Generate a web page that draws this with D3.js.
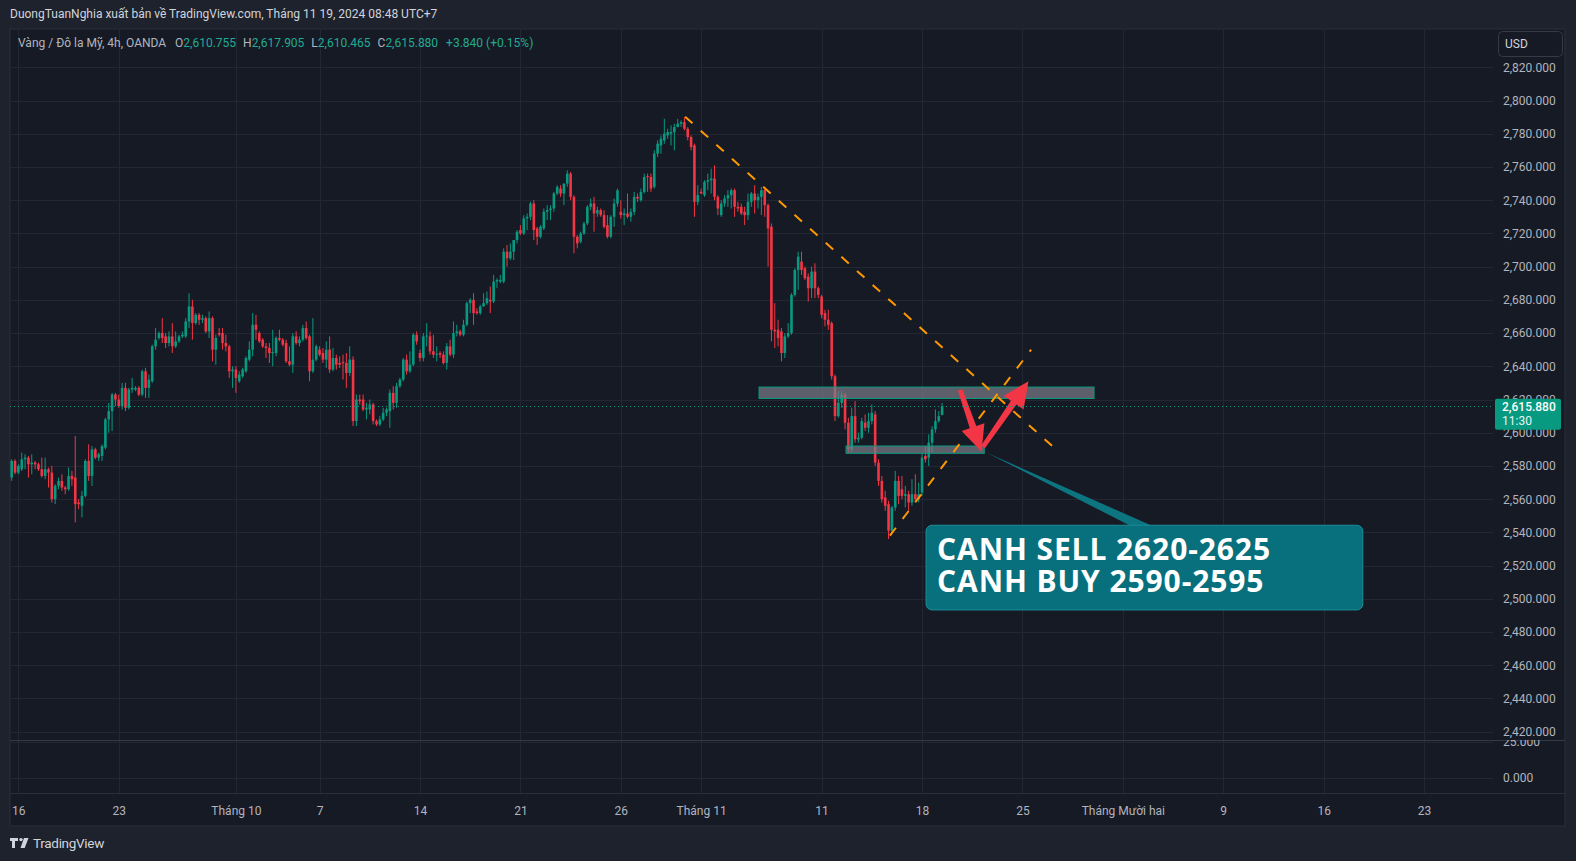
<!DOCTYPE html>
<html>
<head>
<meta charset="utf-8">
<script src="https://cdnjs.cloudflare.com/ajax/libs/d3/7.8.5/d3.min.js"></script>
<style>
body{margin:0;background:#1e222d;overflow:hidden;}
svg{display:block;font-family:Roboto,"Noto Sans",sans-serif;}
</style>
</head>
<body>
<div class="chart"></div>
<script>
// 4h candles, [open, high, low, close]
var candles = [
[2573,2584,2571,2583],[2583,2584,2575,2576],[2576,2581,2575,2580],[2578,2588,2577,2584],[2584,2587,2578,2585],
[2585,2586,2573,2581],[2581,2587,2575,2582],[2582,2583,2578,2581],[2581,2582,2577,2578],[2578,2585,2573,2574],
[2574,2585,2572,2578],[2578,2579,2567,2576],[2576,2580,2558,2560],[2560,2569,2557,2568],[2568,2573,2566,2571],
[2571,2575,2565,2567],[2567,2568,2563,2566],[2566,2579,2565,2574],[2574,2577,2568,2572],[2573,2598,2546,2557],
[2558,2560,2554,2557],[2556,2565,2549,2562],[2562,2584,2561,2583],[2583,2593,2571,2574],[2574,2592,2568,2590],
[2590,2591,2584,2585],[2585,2588,2583,2587],[2586,2593,2583,2592],[2591,2609,2590,2608],[2608,2618,2600,2613],
[2613,2624,2601,2623],[2623,2624,2616,2620],[2620,2623,2615,2616],[2616,2630,2614,2627],[2627,2630,2613,2615],
[2615,2627,2614,2626],[2626,2633,2624,2627],[2626,2628,2625,2627],[2627,2628,2622,2623],[2623,2638,2622,2637],
[2637,2639,2621,2627],[2627,2635,2621,2632],[2631,2653,2630,2652],[2652,2663,2650,2656],[2657,2661,2656,2660],
[2660,2669,2654,2657],[2658,2660,2651,2654],[2654,2661,2652,2658],[2658,2666,2648,2652],[2652,2661,2651,2655],
[2655,2659,2654,2658],[2658,2661,2657,2659],[2658,2669,2657,2667],[2667,2684,2663,2676],[2676,2680,2656,2666],
[2666,2672,2665,2671],[2671,2672,2665,2668],[2668,2671,2666,2669],[2669,2670,2660,2661],[2661,2673,2657,2669],
[2669,2670,2643,2650],[2650,2659,2641,2657],[2660,2663,2658,2659],[2660,2663,2650,2654],[2654,2659,2649,2652],
[2652,2653,2633,2637],[2637,2640,2627,2638],[2638,2640,2624,2633],[2631,2637,2630,2635],[2634,2639,2633,2638],
[2637,2646,2636,2645],[2644,2655,2643,2650],[2650,2672,2646,2665],[2665,2671,2656,2662],[2660,2661,2654,2655],
[2656,2657,2651,2652],[2652,2654,2645,2651],[2651,2654,2642,2648],[2648,2662,2640,2648.5],[2648,2658,2646,2657],
[2657,2662,2655,2656],[2656,2657,2652,2653],[2654,2656,2642,2643],[2643,2652,2640,2641],[2641,2660,2636,2658],
[2658,2661,2653,2654],[2654,2658,2652,2656],[2656,2665,2655,2663],[2663,2667,2656,2657],[2658,2659,2631,2637],
[2637,2669,2636,2644],[2644,2653,2643,2652],[2650,2652,2646,2647],[2648,2651,2642,2644],[2644,2655,2639,2650],
[2650,2658,2636,2638],[2638,2651,2637,2645],[2645,2647,2638,2641],[2642,2646,2639,2641],[2642.5,2647,2632,2642],
[2642,2648,2627,2636],[2636,2652,2634,2644],[2644,2646,2604,2607],[2607,2623,2604,2620],[2620,2623,2617,2619],
[2620,2623,2613,2614],[2614,2618,2608,2615],[2614,2620,2611,2617],[2617,2618,2605,2607],[2607,2608,2604,2605],
[2605,2610,2604,2608],[2608,2615,2607,2612],[2612,2615,2610,2614],[2613,2626,2603,2624],[2624,2628,2614,2618],
[2618,2630,2615,2628],[2628,2633,2627,2632],[2632,2645,2631,2644],[2644,2647,2635,2637],[2637,2649,2636,2641],
[2641,2660,2640,2659],[2659,2661,2653,2655],[2648,2650,2643,2645],[2645,2660,2643,2658],[2658,2666,2652,2658.5],
[2658,2661,2647,2649],[2649,2659,2645,2647],[2647,2652,2643,2647.5],[2648,2649,2645,2647],[2647,2649,2641,2642],
[2642,2654,2638,2652],[2652,2656,2646,2647],[2647,2667,2645,2660],[2660,2665,2658,2661],[2661,2662,2658,2659],
[2659,2668,2658,2665],[2665,2679,2664,2678],[2678,2681,2672,2680],[2680,2684,2665,2672],[2673,2675,2671,2672],
[2672,2677,2671,2676],[2676,2684,2676,2678],[2678,2685,2677,2681],[2680,2688,2672,2679],[2679,2695,2678,2691],
[2691,2693,2687,2692],[2691,2695,2690,2692],[2691,2711,2690,2709],[2709,2713,2700,2705],[2705,2714,2704,2709],
[2709,2716,2704,2716],[2716,2722,2714,2721],[2722,2725,2719,2720],[2720,2731,2719,2729],[2729,2732,2722,2730],
[2730,2739,2728,2738],[2738,2740,2716,2722],[2723,2724,2713,2718],[2718,2725,2717,2724],[2723,2735,2722,2733],
[2733,2737,2728,2734],[2734,2737,2728,2735],[2735,2745,2733,2744],[2744,2749,2743,2748],[2747,2749,2742,2744],
[2744,2750,2737,2750],[2750,2758,2748,2756],[2756,2757,2740,2742],[2742,2743,2708,2718],[2718,2719,2711,2714],
[2715,2721,2714,2720],[2720,2727,2719,2726],[2726,2737,2725,2736],[2736,2741,2734,2738],[2738,2742,2721,2732],
[2732,2736,2730,2734],[2734,2735,2730,2731],[2731,2734,2723,2724],[2725,2731,2717,2718],[2718,2731,2717,2730],
[2730,2741,2724,2738],[2738,2747,2736,2746],[2733,2740,2729,2731],[2731,2735,2725,2732],[2732,2744,2729,2730],
[2730,2735,2727,2733],[2733,2745,2731,2742],[2742,2744,2739,2741],[2740,2747,2739,2745],[2745,2756,2744,2754],
[2754.5,2756,2745,2754],[2754,2756,2745,2747],[2748,2770,2747,2768],[2768,2776,2766,2774],[2773,2779,2768,2777],
[2776,2789,2774,2780],[2779,2783,2777,2781],[2780,2785,2773,2781],[2781,2786,2770,2784],[2784,2789,2784,2786],
[2786,2788,2784,2787],[2787,2790,2782,2783],[2783,2784,2776,2778],[2778,2779,2770,2772],[2773,2774,2730,2739],
[2739,2749,2737,2743],[2745,2747,2744,2744],[2743,2752,2742,2751],[2751,2756,2746,2752],[2752,2759,2744,2753],
[2753,2761,2740,2742],[2742,2743,2731,2735],[2731,2740,2730,2738],[2738,2743,2736,2741],[2741,2746,2736,2743],
[2743,2747,2735,2746],[2746,2747,2730,2736],[2736,2739,2733,2735],[2736,2738,2731,2732],[2733,2736,2725,2731],
[2731,2744,2728,2739],[2739,2745,2736,2744],[2744,2749,2732,2740],[2740,2744,2735,2742],[2742,2748,2731,2746],
[2746,2748,2730,2737],[2737,2738,2700,2723],[2724,2726,2655,2662],[2662,2678,2651,2661],[2662,2668,2652,2657],
[2661,2663,2643,2648],[2648,2660,2645,2658],[2658,2666,2657,2660],[2660,2684,2659,2683],[2683,2699,2682,2698],
[2698,2709,2686,2706],[2703,2709,2695,2698],[2699,2700,2692,2693],[2694,2696,2679,2687],[2687,2700,2681,2697],
[2697,2702,2681,2687],[2687,2688,2681,2683],[2682,2683,2669,2671],[2672,2674,2664,2668],[2668,2674,2662,2665],
[2666,2667,2632,2634],[2634,2635,2607,2610],[2610,2625,2609,2618],[2618,2625,2615,2623],[2623,2624,2602,2606],
[2606,2609,2588,2590],[2590,2615,2588,2610],[2610,2619,2594,2596],[2596,2600,2594,2597],[2597,2609,2596,2607],
[2606,2611,2601,2603],[2603,2612,2600,2607],[2607,2617,2605,2612],[2611,2613,2580,2582],[2582,2584,2568,2571],
[2571,2574,2558,2560],[2561,2565,2553,2556],[2557,2559,2536,2541],[2541,2556,2539,2555],[2555,2577,2553,2571],
[2571,2574,2557,2562],[2566,2574,2560,2562],[2562,2568,2555,2563],[2563,2565,2553,2558],[2558,2572,2556,2563],
[2563,2575,2558,2560],[2560,2570,2558,2563],[2564,2588,2562,2585],[2586,2592,2582,2584],[2585,2599,2580,2594],
[2594,2604,2588,2602],[2602,2614,2600,2607],[2607,2613,2606,2610],[2610.755,2617.905,2610.465,2615.88]
];

// time axis: label and the bar index where it sits
var timeLabels = ["16","23","Tháng 10","7","14","21","26","Tháng 11","11","18","25","Tháng Mười hai","9","16","23"];
var timeBars = [2,32,67,92,122,152,182,206,242,272,302,332,362,392,422];

var priceTicks = [2420,2440,2460,2480,2500,2520,2540,2560,2580,2600,2620,2640,2660,2680,2700,2720,2740,2760,2780,2800,2820];
var lowerTicks = [0,25];

var lastChange = 3.84;
var lastChangePct = 0.15;
var lastTime = "11:30";

// drawings, in [bar index, price]
var trendDown = [[201.2,2790.3],[312,2590]];
var trendUp = [[262.4,2538],[304.6,2650]];
var sellZone = [[223.3,2627.5],[323.4,2620.6]];
var buyZone = [[249.3,2592.0],[290.6,2587.6]];
var arrowDown = [[283.4,2625.7],[289.8,2588.6]];
var arrowUp = [[290.2,2591.4],[303.8,2631]];
var calloutAnchor = [291.3,2588];
var calloutBox = [[273.2,2544.3],[403.7,2493.3]];
var calloutText = ["CANH SELL 2620-2625","CANH BUY 2590-2595"];

var W = 1576, H = 861;
var plotL = 10, plotR = 1493, plotT = 29, plotB = 740, lowB = 793, axisB = 826, frameR = 1565;
var up = '#089981', down = '#f23645', grid = '#232733', txt = '#b2b5be';

var svg = d3.select('div.chart')
.append('svg')
.attr('width', W)
.attr('height', H)
;

var x = d3.scaleLinear()
.domain([-0.5, 442.6])
.range([plotL, plotR])
;

var y = d3.scaleLinear()
.domain([2420, 2820])
.range([731.7, 67.3])
;

var y2 = d3.scaleLinear()
.domain([0, 25])
.range([777.7, 742])
;

var defs = svg.append('defs');
defs.append('clipPath').attr('id','plotClip')
.append('rect').attr('x',plotL).attr('y',plotT).attr('width',plotR-plotL).attr('height',plotB-plotT);
defs.append('clipPath').attr('id','lowClip')
.append('rect').attr('x',plotL).attr('y',plotB).attr('width',frameR-plotL).attr('height',lowB-plotB);

// frame
svg.append('rect')
.attr('x', plotL).attr('y', plotT)
.attr('width', frameR-plotL).attr('height', axisB-plotT)
.attr('fill', '#161a25')
.attr('stroke', '#2a2e39')
;

// grid
svg.append('g')
.selectAll('line')
.data(priceTicks)
.enter()
.append('line')
.attr('x1', plotL).attr('x2', plotR)
.attr('y1', function(d){return Math.round(y(d))+0.5})
.attr('y2', function(d){return Math.round(y(d))+0.5})
.attr('stroke', grid)
;
svg.append('g')
.selectAll('line')
.data(lowerTicks)
.enter()
.append('line')
.attr('x1', plotL).attr('x2', plotR)
.attr('y1', function(d){return Math.round(y2(d))+0.5})
.attr('y2', function(d){return Math.round(y2(d))+0.5})
.attr('stroke', grid)
;
svg.append('g')
.selectAll('line')
.data(timeBars)
.enter()
.append('line')
.attr('x1', function(d){return Math.round(x(d))+0.5})
.attr('x2', function(d){return Math.round(x(d))+0.5})
.attr('y1', plotT).attr('y2', lowB)
.attr('stroke', grid)
;

// candles
var bars = svg.append('g')
.attr('clip-path', 'url(#plotClip)')
.selectAll('g')
.data(candles)
.enter()
.append('g')
.attr('fill', function(d){return d[3] >= d[0] ? up : down})
.attr('stroke', function(d){return d[3] >= d[0] ? up : down})
;
bars.append('line')
.attr('x1', function(d,i){return x(i)})
.attr('x2', function(d,i){return x(i)})
.attr('y1', function(d){return y(d[1])})
.attr('y2', function(d){return y(d[2])})
.attr('stroke-width', 1)
;
bars.append('rect')
.attr('x', function(d,i){return x(i)-1.3})
.attr('width', 2.6)
.attr('y', function(d){return y(Math.max(d[0],d[3]))})
.attr('height', function(d){return Math.max(1, Math.abs(y(d[0])-y(d[3])))})
.attr('stroke', 'none')
;

// drawings
var draw = svg.append('g').attr('clip-path', 'url(#plotClip)');

function pt(p){return [x(p[0]), y(p[1])];}

[sellZone, buyZone].forEach(function(z){
    var a = pt(z[0]), b = pt(z[1]);
    draw.append('rect')
    .attr('x', a[0]).attr('y', a[1])
    .attr('width', b[0]-a[0]).attr('height', b[1]-a[1])
    .attr('fill', 'rgba(120,123,134,0.72)')
    .attr('stroke', '#089981')
    .attr('stroke-width', 1)
    ;
});

[trendDown, trendUp].forEach(function(l){
    var a = pt(l[0]), b = pt(l[1]);
    draw.append('line')
    .attr('x1', a[0]).attr('y1', a[1])
    .attr('x2', b[0]).attr('y2', b[1])
    .attr('stroke', '#ff9800')
    .attr('stroke-width', 2)
    .attr('stroke-dasharray', '10 11')
    ;
});

function arrowPoints(s, e){
    var a = pt(s), b = pt(e);
    var dx = b[0]-a[0], dy = b[1]-a[1], len = Math.sqrt(dx*dx+dy*dy);
    var ux = dx/len, uy = dy/len, nx = -uy, ny = ux;
    var hl = 26, hw = 12, sw = 3.4;
    var bx = b[0]-ux*hl, by = b[1]-uy*hl;
    return [
        [a[0]+nx*sw*0.7, a[1]+ny*sw*0.7],
        [bx+nx*sw, by+ny*sw],
        [bx+nx*hw, by+ny*hw],
        [b[0], b[1]],
        [bx-nx*hw, by-ny*hw],
        [bx-nx*sw, by-ny*sw],
        [a[0]-nx*sw*0.7, a[1]-ny*sw*0.7]
    ].map(function(p){return p.join(',')}).join(' ');
}
[arrowDown, arrowUp].forEach(function(ar){
    draw.append('polygon')
    .attr('points', arrowPoints(ar[0], ar[1]))
    .attr('fill', '#f23645')
    ;
});

// callout
var cb0 = pt(calloutBox[0]), cb1 = pt(calloutBox[1]), ca = pt(calloutAnchor);
var cw = cb1[0]-cb0[0];
draw.append('polygon')
.attr('points', [ca, [cb0[0]+cw*0.47, cb0[1]+1], [cb0[0]+cw*0.52, cb0[1]+1]].map(function(p){return p.join(',')}).join(' '))
.attr('fill', '#0c7580')
;
draw.append('rect')
.attr('x', cb0[0]).attr('y', cb0[1])
.attr('width', cw).attr('height', cb1[1]-cb0[1])
.attr('rx', 6)
.attr('fill', '#08707c')
.attr('stroke', '#1b8e98')
;
draw.selectAll('text.call')
.data(calloutText)
.enter()
.append('text')
.attr('class', 'call')
.attr('x', cb0[0]+11)
.attr('y', function(d,i){return cb0[1]+35+i*31.7})
.attr('fill', '#ffffff')
.attr('font-family', '"Open Sans", sans-serif')
.attr('font-weight', 700)
.attr('font-size', 30)
.attr('letter-spacing', 0.9)
.text(function(d){return d})
;

// last price line
var last = candles[candles.length-1];
svg.append('line')
.attr('x1', plotL).attr('x2', plotR)
.attr('y1', Math.round(y(last[3]))+0.5).attr('y2', Math.round(y(last[3]))+0.5)
.attr('stroke', up)
.attr('stroke-dasharray', '1 3')
;

// lower pane separator
svg.append('line')
.attr('x1', plotL).attr('x2', frameR)
.attr('y1', plotB+0.5).attr('y2', plotB+0.5)
.attr('stroke', '#363a45')
;
svg.append('line')
.attr('x1', plotL).attr('x2', frameR)
.attr('y1', lowB+0.5).attr('y2', lowB+0.5)
.attr('stroke', '#2a2e39')
;

// price scale
var priceAxis = d3.axisRight(y)
.tickValues(priceTicks)
.tickFormat(d3.format(',.3f'))
.tickSize(0)
.tickPadding(10)
;
svg.append('g')
.attr('class', 'y-axis')
.attr('transform', 'translate(' + plotR + ',0)')
.call(priceAxis)
;
var lowAxis = d3.axisRight(y2)
.tickValues(lowerTicks)
.tickFormat(d3.format('.3f'))
.tickSize(0)
.tickPadding(10)
;
svg.append('g')
.attr('class', 'y-axis')
.attr('clip-path', 'url(#lowClip)')
.attr('transform', 'translate(' + plotR + ',0)')
.call(lowAxis)
;

var timeAxis = d3.axisBottom(x)
.tickValues(timeBars)
.tickFormat(function(d,i){return timeLabels[i]})
.tickSize(0)
.tickPadding(3)
;
svg.append('g')
.attr('class', 'x-axis')
.attr('transform', 'translate(0,' + (lowB+10) + ')')
.call(timeAxis)
;
svg.selectAll('.y-axis .domain, .x-axis .domain').remove();
svg.selectAll('.y-axis text, .x-axis text')
.attr('fill', txt)
.attr('font-size', 12)
.attr('font-family', 'Roboto, sans-serif')
;

// last price badge
var ly = y(last[3]);
svg.append('rect')
.attr('x', plotR+2).attr('y', ly-7.5)
.attr('width', 66).attr('height', 31)
.attr('rx', 2)
.attr('fill', up)
;
svg.append('text')
.attr('x', plotR+9).attr('y', ly+4.5)
.attr('fill', '#ffffff').attr('font-size', 12).attr('font-weight', 500)
.text(d3.format(',.3f')(last[3]))
;
svg.append('text')
.attr('x', plotR+9).attr('y', ly+19)
.attr('fill', '#e6f4f1').attr('font-size', 12)
.text(lastTime)
;

// currency button
svg.append('rect')
.attr('x', 1498.5).attr('y', 31.5)
.attr('width', 64).attr('height', 25)
.attr('rx', 4)
.attr('fill', '#161a25')
.attr('stroke', '#363a45')
;
svg.append('text')
.attr('x', 1505).attr('y', 48)
.attr('fill', '#d1d4dc').attr('font-size', 12)
.text('USD')
;

// header and legend
svg.append('text')
.attr('x', 10).attr('y', 18)
.attr('fill', '#d1d4dc').attr('font-size', 12)
.text('DuongTuanNghia xuất bản về TradingView.com, Tháng 11 19, 2024 08:48 UTC+7')
;
var fmt = d3.format(',.3f');
var legend = svg.append('text')
.attr('x', 18).attr('y', 47)
.attr('font-size', 12)
.attr('fill', txt)
;
legend.append('tspan').text('Vàng / Đô la Mỹ, 4h, OANDA');
[['O', last[0]], ['H', last[1]], ['L', last[2]], ['C', last[3]]].forEach(function(p, i){
    legend.append('tspan').attr('dx', i == 0 ? 9 : 7).text(p[0]);
    legend.append('tspan').attr('fill', '#22ab94').text(fmt(p[1]));
});
legend.append('tspan').attr('dx', 8).attr('fill', '#22ab94')
.text('+' + lastChange.toFixed(3) + ' (+' + lastChangePct.toFixed(2) + '%)');

// footer logo
var logo = svg.append('g').attr('fill', '#d1d4dc');
logo.append('path').attr('d', 'M10,838h8v3h-3v7h-3v-7h-2z');
logo.append('circle').attr('cx', 21).attr('cy', 839.6).attr('r', 1.7);
logo.append('path').attr('d', 'M24,838h4.5l-3.8,10h-4.2z');
logo.append('text')
.attr('x', 33).attr('y', 848)
.attr('font-size', 13.5)
.attr('letter-spacing', -0.3)
.text('TradingView')
;
</script>
</body>
</html>
